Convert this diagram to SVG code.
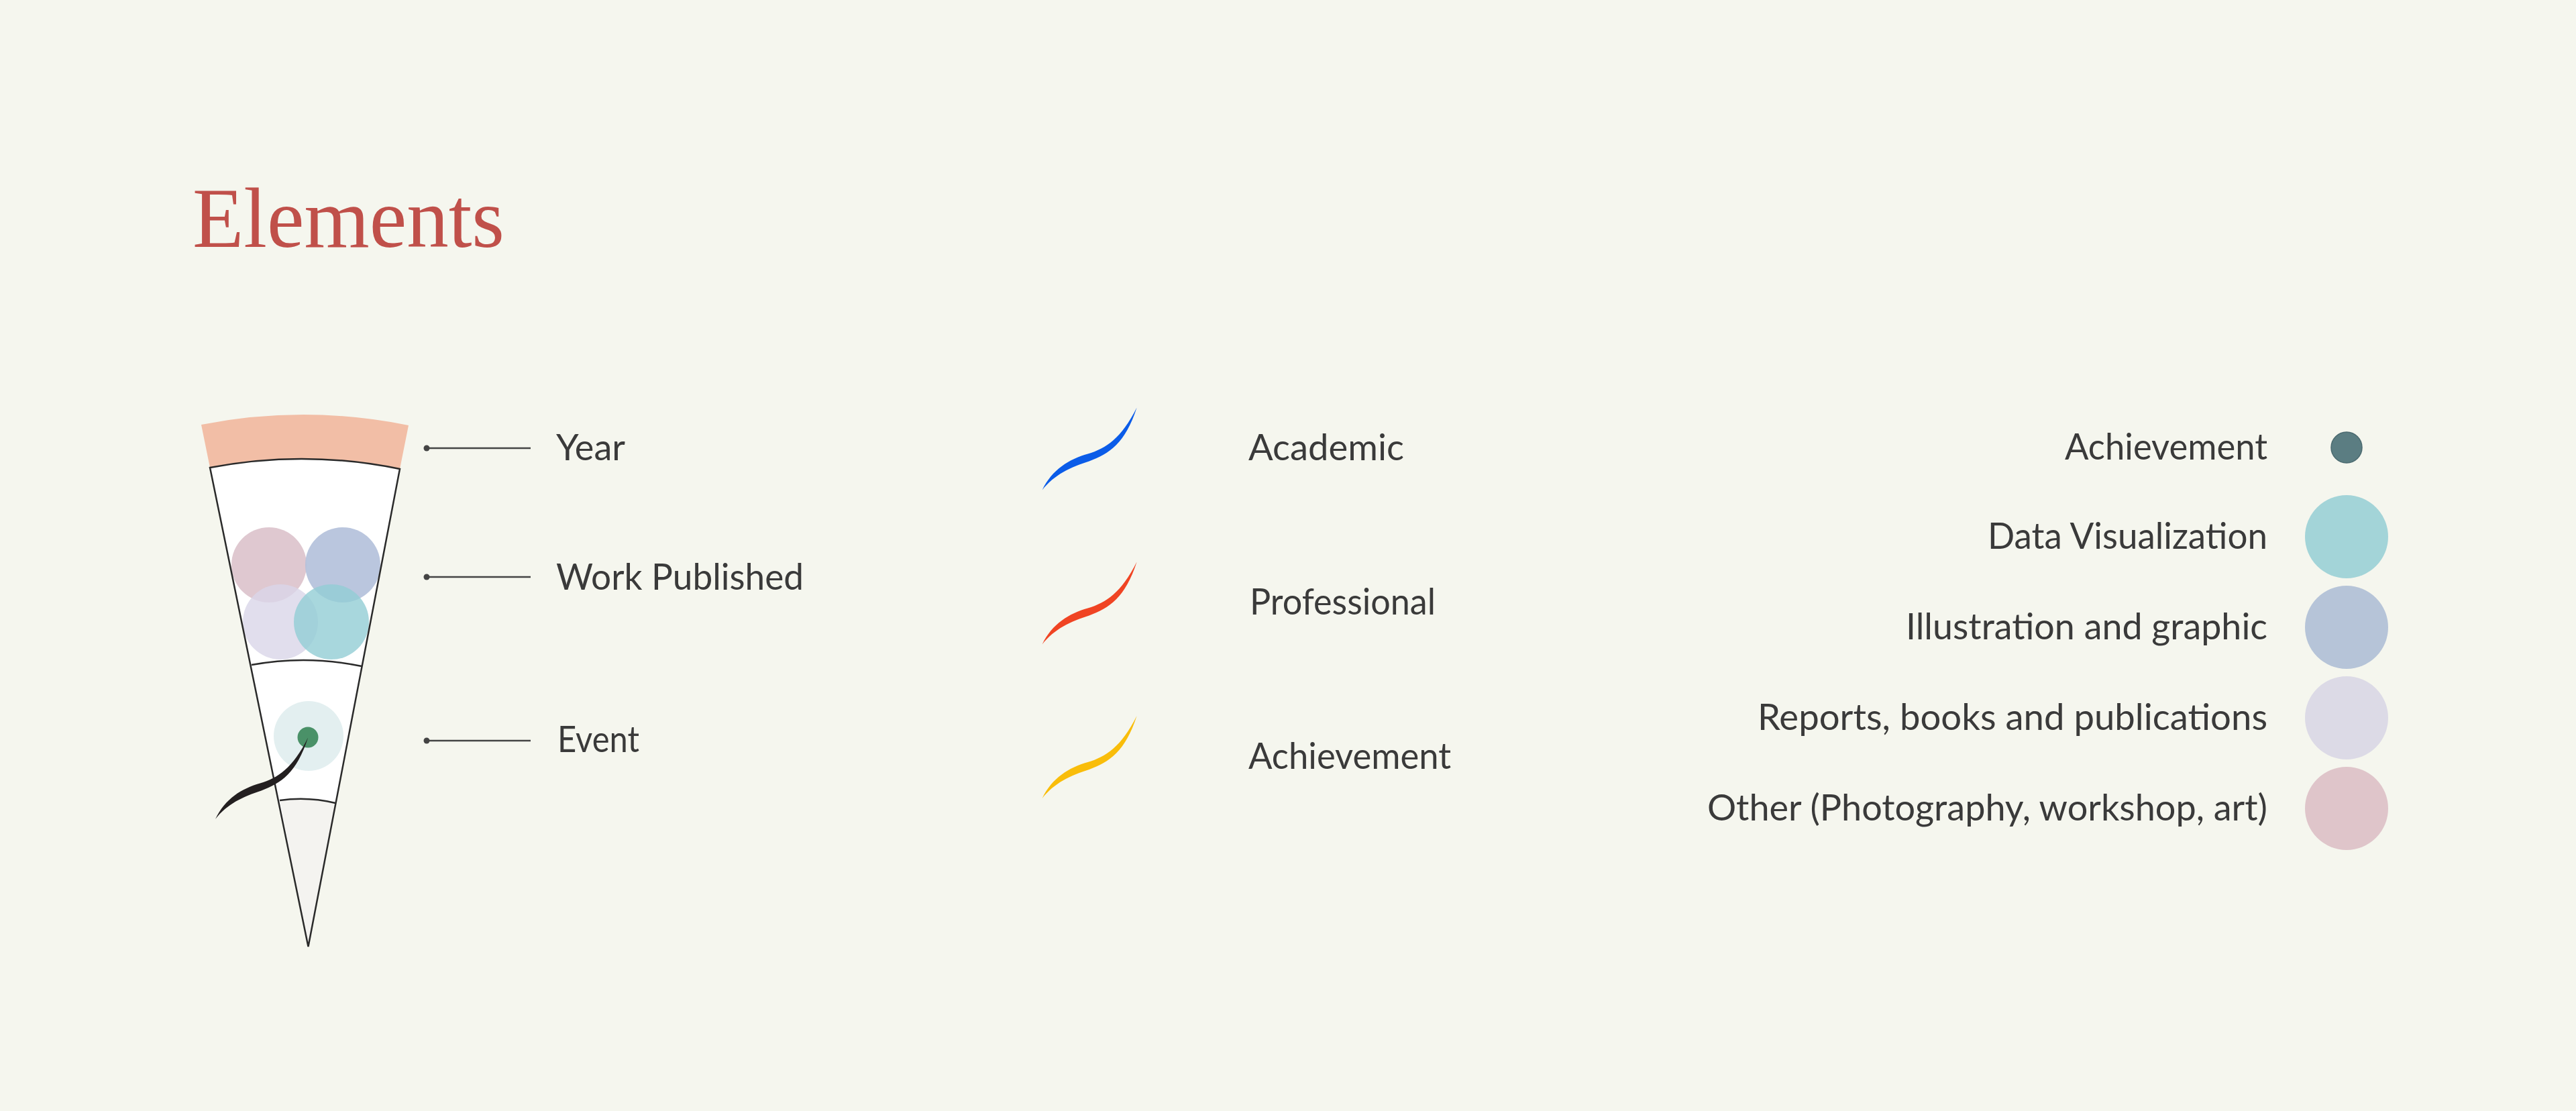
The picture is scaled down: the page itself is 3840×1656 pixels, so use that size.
<svg xmlns="http://www.w3.org/2000/svg" width="3840" height="1656" viewBox="0 0 3840 1656">
<defs>
<style>
.lbl{font-family:Lato,"Noto Sans","Liberation Sans",sans-serif;font-size:54px;fill:#3a3a3a}
.lead{stroke:#444;stroke-width:2.5;fill:none}
.dot{fill:#444}
.edge{stroke:#2a2a2a;stroke-width:2.5;fill:none}
</style>
<path id="brush" d="M0,0 C15,-31 40,-46 68,-54 C95,-62 118,-77 141,-123 C124,-70 100,-54 70,-43 C42,-34 18,-23 0,0 Z"/>
</defs>
<rect width="3840" height="1656" fill="#f5f6ee"/>
<g id="title">
<text x="287" y="368" font-family="'Liberation Serif','DejaVu Serif',serif" font-size="128" fill="#c0504a" textLength="465" lengthAdjust="spacingAndGlyphs">Elements</text>
</g>
<g id="wedge">
<path d="M300,633 A790,790 0 0 1 609,634 L596,699 A725,725 0 0 0 313,697 Z" fill="#f2bea6"/>
<path d="M313,697 A725,725 0 0 1 596,699 L459.5,1411 Z" fill="#ffffff"/>
<path d="M417,1193 A220,220 0 0 1 500,1197 L459.5,1411 Z" fill="#f4f3f0"/>
<circle cx="401" cy="842" r="56" fill="#dcc2cb" opacity="0.9"/>
<circle cx="511" cy="842" r="56" fill="#b3c0da" opacity="0.9"/>
<circle cx="418" cy="927" r="56" fill="#d9d6e8" opacity="0.8"/>
<circle cx="494" cy="927" r="56" fill="#92cdd4" opacity="0.8"/>
<circle cx="460" cy="1097" r="52" fill="#e3eff0"/>
<circle cx="459" cy="1099" r="15.5" fill="#4a9168"/>
<path d="M313,697 A725,725 0 0 1 596,699 L459.5,1411 Z" class="edge"/>
<path d="M375,991 A425,425 0 0 1 539,993" class="edge" stroke-width="2"/>
<path d="M417,1193 A220,220 0 0 1 500,1197" class="edge" stroke-width="2"/>
<use href="#brush" transform="translate(321,1221) scale(0.98,0.99)" fill="#231f20"/>
</g>
<g id="connectors">
<line x1="636" y1="668" x2="791" y2="668" class="lead"/><circle cx="636" cy="668" r="4.5" class="dot"/>
<line x1="636" y1="860" x2="791" y2="860" class="lead"/><circle cx="636" cy="860" r="4.5" class="dot"/>
<line x1="636" y1="1104" x2="791" y2="1104" class="lead"/><circle cx="636" cy="1104" r="4.5" class="dot"/>
</g>
<g id="label-year"><text x="829" y="686" class="lbl" textLength="103" lengthAdjust="spacingAndGlyphs">Year</text></g>
<g id="label-work"><text x="829" y="879" class="lbl" textLength="369" lengthAdjust="spacingAndGlyphs">Work Published</text></g>
<g id="label-event"><text x="831" y="1121" class="lbl" textLength="122" lengthAdjust="spacingAndGlyphs">Event</text></g>
<g id="legend-academic">
<use href="#brush" transform="translate(1553.6,730.5)" fill="#0b5ce8"/>
<text x="1861" y="686" class="lbl" textLength="232" lengthAdjust="spacingAndGlyphs">Academic</text>
</g>
<g id="legend-professional">
<use href="#brush" transform="translate(1553.6,960.6)" fill="#f04423"/>
<text x="1863" y="916" class="lbl" textLength="277" lengthAdjust="spacingAndGlyphs">Professional</text>
</g>
<g id="legend-achievement">
<use href="#brush" transform="translate(1553.6,1190)" fill="#f9bd0a"/>
<text x="1861" y="1146" class="lbl" textLength="302" lengthAdjust="spacingAndGlyphs">Achievement</text>
</g>
<g id="cat-achievement">
<text x="3380" y="685" class="lbl" text-anchor="end" textLength="302" lengthAdjust="spacingAndGlyphs">Achievement</text>
<circle cx="3498" cy="667" r="23" fill="#5b7d82" stroke="#4b6a70" stroke-width="1.5"/>
</g>
<g id="cat-dataviz">
<text x="3380" y="818" class="lbl" text-anchor="end" textLength="417" lengthAdjust="spacingAndGlyphs">Data Visualization</text>
<circle cx="3498" cy="800" r="62" fill="#a3d4d8"/>
</g>
<g id="cat-illustration">
<text x="3380" y="953" class="lbl" text-anchor="end" textLength="539" lengthAdjust="spacingAndGlyphs">Illustration and graphic</text>
<circle cx="3498" cy="935" r="62" fill="#b6c4d8"/>
</g>
<g id="cat-reports">
<text x="3380" y="1088" class="lbl" text-anchor="end" textLength="760" lengthAdjust="spacingAndGlyphs">Reports, books and publications</text>
<circle cx="3498" cy="1070" r="62" fill="#dcdae6"/>
</g>
<g id="cat-other">
<text x="3380" y="1223" class="lbl" text-anchor="end" textLength="835" lengthAdjust="spacingAndGlyphs">Other (Photography, workshop, art)</text>
<circle cx="3498" cy="1205" r="62" fill="#dfc5ca"/>
</g>
</svg>
